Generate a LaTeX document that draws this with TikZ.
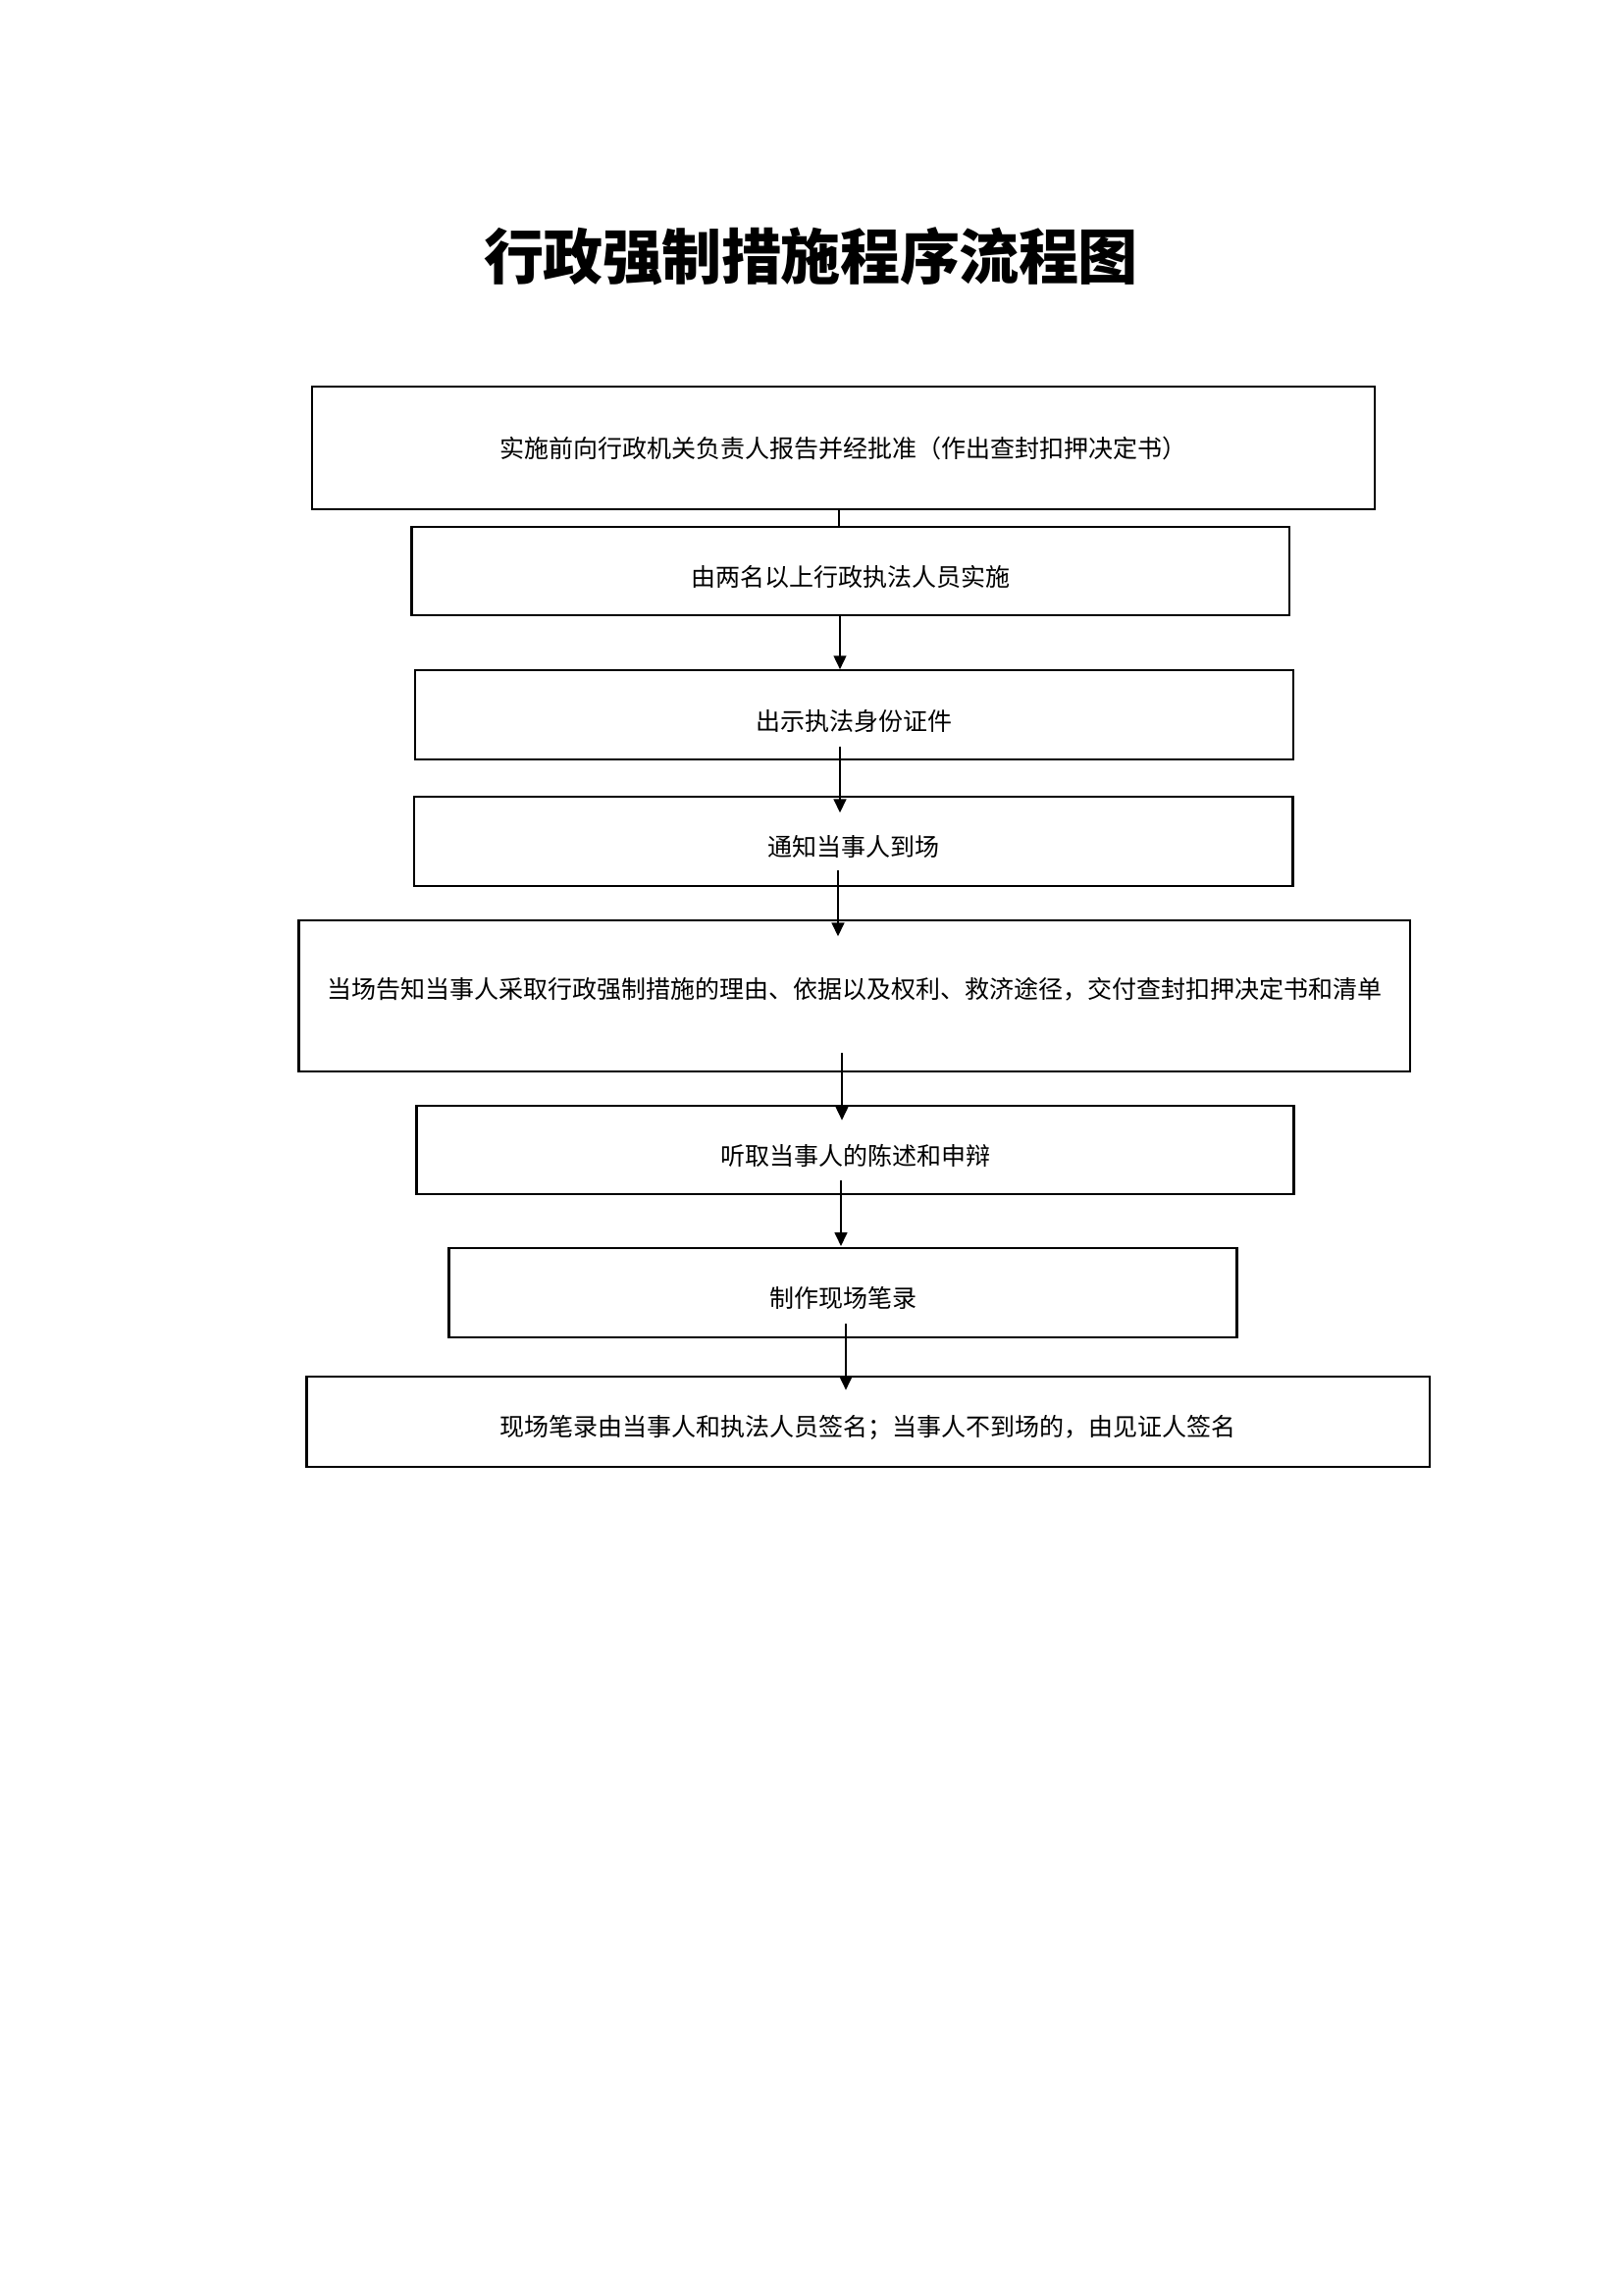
\documentclass[tikz,border=0pt]{standalone}
\usepackage{fontspec}
\newfontfamily\cjk{Noto Sans CJK SC}
\usetikzlibrary{arrows.meta}
\newcommand\tch[1]{\makebox[21.8pt]{#1}}
\newcommand\shifttext[2]{\raisebox{#1}[\height][\depth]{#2}}
\tikzset{
  box/.style={draw=black, line width=0.8pt, inner sep=0pt, anchor=center,
    font=\cjk\fontsize{9pt}{11pt}\selectfont},
  plainline/.style={draw=black, line width=0.72pt},
  arr/.style={draw=black, line width=0.72pt, -{Triangle[length=5pt,width=4.6pt]}},
  titlestyle/.style={inner sep=0pt, font=\cjk\bfseries\fontsize{22pt}{26pt}\selectfont}
}
\begin{document}
\begin{tikzpicture}[x=0.36pt, y=-0.36pt]
\useasboundingbox[fill=white] (0,0) rectangle (1654,2339);

\node[titlestyle] (title) at (826.5,261.5) {\tch{行}\tch{政}\tch{强}\tch{制}\tch{措}\tch{施}\tch{程}\tch{序}\tch{流}\tch{程}\tch{图}};

\node[box, minimum width=1082.7*0.36pt, minimum height=124.7*0.36pt] (b1) at (859.65,456.65) {实施前向行政机关负责人报告并经批准（作出查封扣押决定书）};
\node[box, minimum width=894.5*0.36pt, minimum height=90*0.36pt] (b2) at (866.75,582.3) {\shifttext{-2.2pt}{由两名以上行政执法人员实施}};
\node[box, minimum width=895*0.36pt, minimum height=91*0.36pt] (b3) at (870.5,728.8) {\shifttext{-2.2pt}{出示执法身份证件}};
\node[box, minimum width=895.6*0.36pt, minimum height=90.4*0.36pt] (b4) at (869.8,857.5) {\shifttext{-2pt}{通知当事人到场}};
\node[box, minimum width=1132.5*0.36pt, minimum height=153.4*0.36pt] (b5) at (870.75,1015) {\shifttext{2.5pt}{当场告知当事人采取行政强制措施的理由、依据以及权利、救济途径，交付查封扣押决定书和清单}};
\node[box, minimum width=894*0.36pt, minimum height=90.6*0.36pt] (b6) at (871.6,1172) {\shifttext{-2.2pt}{听取当事人的陈述和申辩}};
\node[box, minimum width=802.8*0.36pt, minimum height=91.6*0.36pt] (b7) at (859,1317.5) {\shifttext{-2pt}{制作现场笔录}};
\node[box, minimum width=1144.5*0.36pt, minimum height=92.3*0.36pt] (b8) at (884.75,1448.85) {\shifttext{-2.2pt}{现场笔录由当事人和执法人员签名；当事人不到场的，由见证人签名}};

\coordinate (s12) at (855,519);
\draw[plainline] (s12) -- (s12 |- b2.north);
\coordinate (s23) at (856,627.3);
\draw[arr] (s23) -- (s23 |- b3.north);
\coordinate (s34) at (856,760.7);
\coordinate (t34) at (856,828.3);
\draw[arr] (s34) -- (t34);
\coordinate (s45) at (854,886.7);
\coordinate (t45) at (854,954.3);
\draw[arr] (s45) -- (t45);
\coordinate (s56) at (858,1073.3);
\coordinate (t56) at (858,1141.7);
\draw[arr] (s56) -- (t56);
\coordinate (s67) at (857,1202.7);
\coordinate (t67) at (857,1270);
\draw[arr] (s67) -- (t67);
\coordinate (s78) at (862,1349.3);
\coordinate (t78) at (862,1416.7);
\draw[arr] (s78) -- (t78);
\end{tikzpicture}
\end{document}
